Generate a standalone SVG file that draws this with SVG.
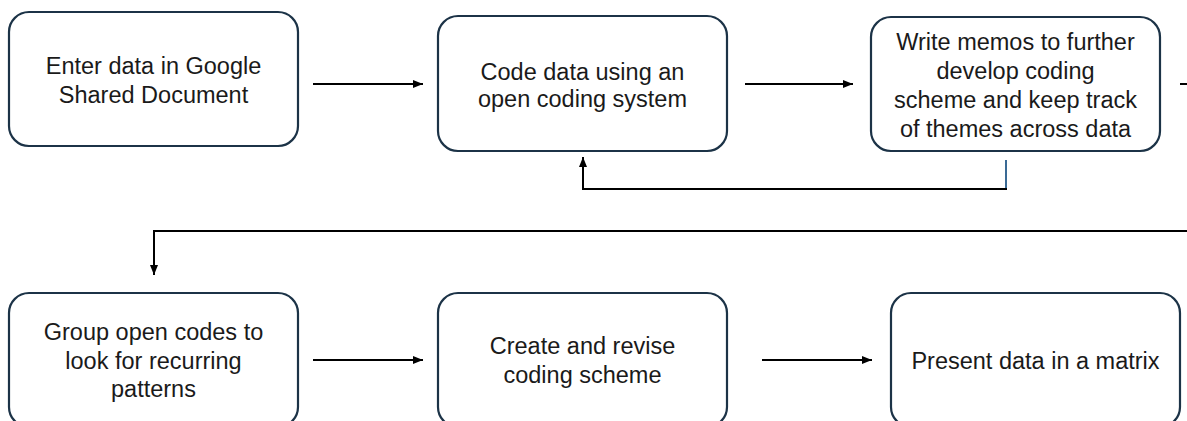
<svg xmlns="http://www.w3.org/2000/svg" width="1187" height="421" viewBox="0 0 1187 421">
<style>
.box{fill:#fff;stroke:#1c3347;stroke-width:2.2}
.t{font-family:"Liberation Sans",Arial,sans-serif;font-size:23.5px;fill:#1a1a1a;text-anchor:middle}
.c{fill:none;stroke:#000;stroke-width:2}
</style>
<defs>
<marker id="ah" viewBox="0 0 10 8" refX="10" refY="4" markerWidth="10" markerHeight="8" markerUnits="userSpaceOnUse" orient="auto">
<path d="M0,0 L10,4 L0,8 z" fill="#000"/>
</marker>
</defs>
<rect width="1187" height="421" fill="#fff"/>
<g id="connectors">
<line class="c" x1="313" y1="84" x2="423" y2="84" marker-end="url(#ah)"/>
<line class="c" x1="745" y1="84" x2="853" y2="84" marker-end="url(#ah)"/>
<line class="c" x1="1180" y1="84" x2="1187" y2="84"/>
<line x1="1006" y1="160" x2="1006" y2="190" stroke="#3a6a95" stroke-width="2"/>
<polyline class="c" points="1007,189 583,189 583,157" marker-end="url(#ah)"/>
<polyline class="c" points="1187,231 154,231 154,275" stroke="#1a1a1a" stroke-width="2.4" marker-end="url(#ah)"/>
<line class="c" x1="313" y1="360" x2="423" y2="360" marker-end="url(#ah)"/>
<line class="c" x1="762" y1="360" x2="872" y2="360" marker-end="url(#ah)"/>
</g>
<g id="n1">
<rect class="box" x="9" y="12" width="289" height="134" rx="20"/>
<text class="t" x="153.5" y="74">Enter data in Google</text>
<text class="t" x="153.5" y="102.5">Shared Document</text>
</g>
<g id="n2">
<rect class="box" x="438" y="16" width="289" height="135" rx="20"/>
<text class="t" x="582.5" y="80">Code data using an</text>
<text class="t" x="582.5" y="107">open coding system</text>
</g>
<g id="n3">
<rect class="box" x="871" y="17" width="289" height="134" rx="20"/>
<text class="t" x="1015.5" y="50">Write memos to further</text>
<text class="t" x="1015.5" y="79">develop coding</text>
<text class="t" x="1015.5" y="108">scheme and keep track</text>
<text class="t" x="1015.5" y="137">of themes across data</text>
</g>
<g id="n4">
<rect class="box" x="9" y="293" width="289" height="134" rx="20"/>
<text class="t" x="153.5" y="340">Group open codes to</text>
<text class="t" x="153.5" y="369">look for recurring</text>
<text class="t" x="153.5" y="397">patterns</text>
</g>
<g id="n5">
<rect class="box" x="438" y="293" width="289" height="134" rx="20"/>
<text class="t" x="582.5" y="354">Create and revise</text>
<text class="t" x="582.5" y="383">coding scheme</text>
</g>
<g id="n6">
<rect class="box" x="891" y="293" width="289" height="134" rx="20"/>
<text class="t" x="1035.5" y="369">Present data in a matrix</text>
</g>
</svg>
